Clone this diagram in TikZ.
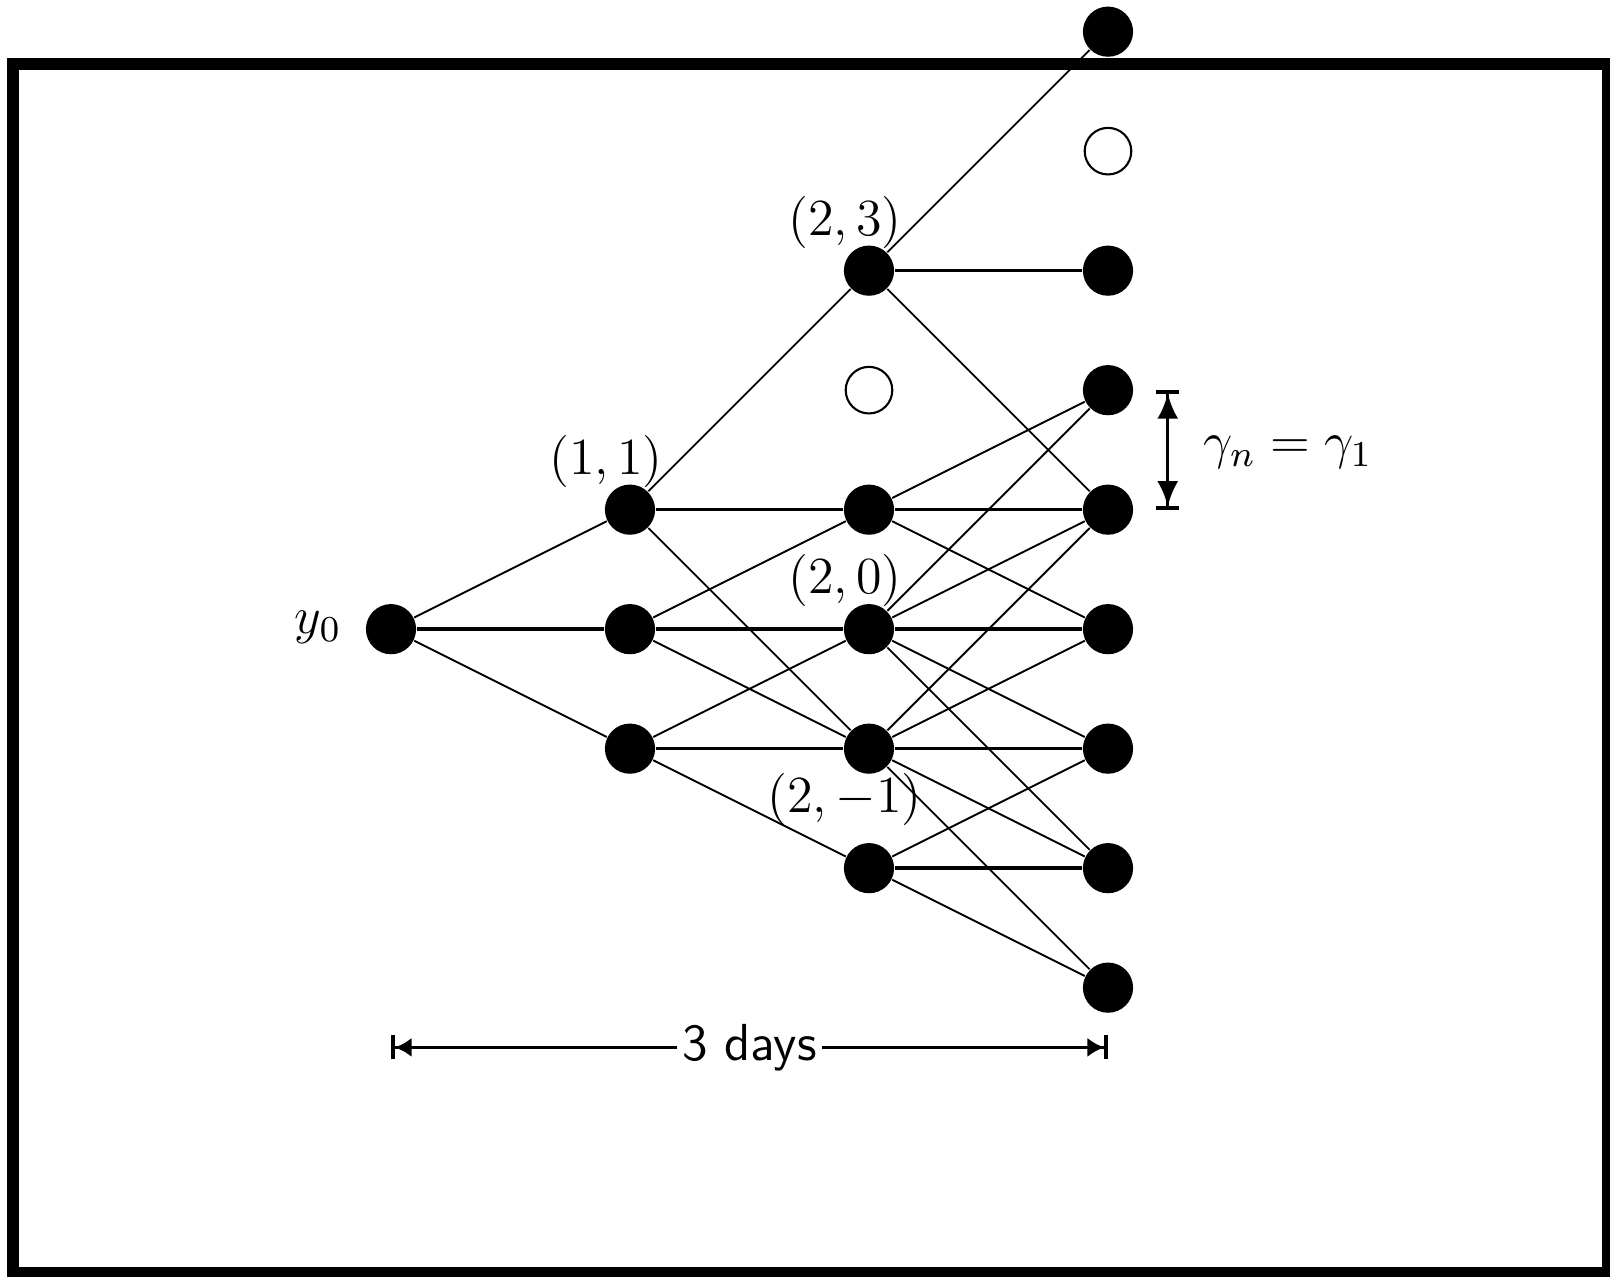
\RequirePackage{fix-cm}
\documentclass[tikz,border=0pt]{standalone}
\usetikzlibrary{arrows.meta,calc}
\begin{document}
\begin{tikzpicture}[
  font=\fontsize{12.4}{15}\selectfont,
  dot/.style={circle,fill=black,inner sep=0pt,minimum size=0.42cm},
  hollow/.style={circle,draw=black,line width=0.5pt,fill=white,inner sep=0pt,minimum size=0.39cm},
  edge/.style={line width=0.45pt},
  flat/.style={line width=0.8pt},
  lbl/.style={inner sep=0pt},
  dimh/.style={line width=0.9pt,-{Latex[length=4pt,width=4.6pt]Bar[width=5.7pt]}},
  dimv/.style={line width=0.8pt,-{Latex[length=6pt,width=5pt]Bar[width=5.5pt]}},
  frameline/.style={line width=2.75pt}
]
\useasboundingbox (-3.272,-5.421) rectangle (10.201,5.265);
\draw[frameline] (-3.163,-5.385) rectangle (10.179,4.731);

% nodes
\node[dot] (n0) at (0,0) {};
\node[dot] (a1) at (2,1) {};
\node[dot] (a0) at (2,0) {};
\node[dot] (am1) at (2,-1) {};
\node[dot] (b3) at (4,3) {};
\node[hollow] (b2) at (4,2) {};
\node[dot] (b1) at (4,1) {};
\node[dot] (b0) at (4,0) {};
\node[dot] (bm1) at (4,-1) {};
\node[dot] (bm2) at (4,-2) {};
\node[dot] (c5) at (6,5) {};
\node[hollow] (c4) at (6,4) {};
\node[dot] (c3) at (6,3) {};
\node[dot] (c2) at (6,2) {};
\node[dot] (c1) at (6,1) {};
\node[dot] (c0) at (6,0) {};
\node[dot] (cm1) at (6,-1) {};
\node[dot] (cm2) at (6,-2) {};
\node[dot] (cm3) at (6,-3) {};

% sloped edges
\draw[edge] (n0) -- (a1);
\draw[edge] (n0) -- (am1);
\draw[edge] (a1) -- (b3);
\draw[edge] (a1) -- (bm1);
\draw[edge] (a0) -- (b1);
\draw[edge] (a0) -- (bm1);
\draw[edge] (am1) -- (b0);
\draw[edge] (am1) -- (bm2);
\draw[edge] (b3) -- (c5);
\draw[edge] (b3) -- (c1);
\draw[edge] (b1) -- (c2);
\draw[edge] (b1) -- (c0);
\draw[edge] (b0) -- (c2);
\draw[edge] (b0) -- (c1);
\draw[edge] (b0) -- (cm1);
\draw[edge] (b0) -- (cm2);
\draw[edge] (bm1) -- (c1);
\draw[edge] (bm1) -- (c0);
\draw[edge] (bm1) -- (cm2);
\draw[edge] (bm1) -- (cm3);
\draw[edge] (bm2) -- (cm1);
\draw[edge] (bm2) -- (cm3);

% horizontal edges
\draw[flat] (n0) -- (a0);
\draw[flat] (a1) -- (b1);
\draw[flat] (a0) -- (b0);
\draw[flat] (am1) -- (bm1);
\draw[flat] (b3) -- (c3);
\draw[flat] (b1) -- (c1);
\draw[flat] (b0) -- (c0);
\draw[flat] (bm1) -- (cm1);
\draw[flat] (bm2) -- (cm2);

% labels
\node[lbl] (l0) at ($(n0)+(-0.61,0.016)$) {$y_0$};
\node[lbl] (l11) at ($(a1)+(-0.200,0.400)$) {$(1,1)$};
\node[lbl] (l23) at ($(b3)+(-0.200,0.403)$) {$(2,3)$};
\node[lbl] (l20) at ($(b0)+(-0.200,0.410)$) {$(2,0)$};
\node[lbl] (l2m1) at ($(bm1)+(-0.205,-0.423)$) {$(2,-1)$};

% gamma dimension
\coordinate (g2) at (6.5,2);
\coordinate (g1) at (6.5,1);
\coordinate (gm) at (6.5,1.5);
\draw[dimv] (gm) -- (g2);
\draw[dimv] (gm) -- (g1);
\node[lbl,anchor=base west] (gl) at (6.795,1.43) {$\gamma_n = \gamma_1$};

% days dimension
\coordinate (dL) at (0,-3.5);
\coordinate (dR) at (6,-3.5);
\node[inner sep=1pt] (days) at (3,-3.5) {\sffamily 3 days};
\draw[dimh] (days) -- (dL);
\draw[dimh] (days) -- (dR);
\end{tikzpicture}
\end{document}
